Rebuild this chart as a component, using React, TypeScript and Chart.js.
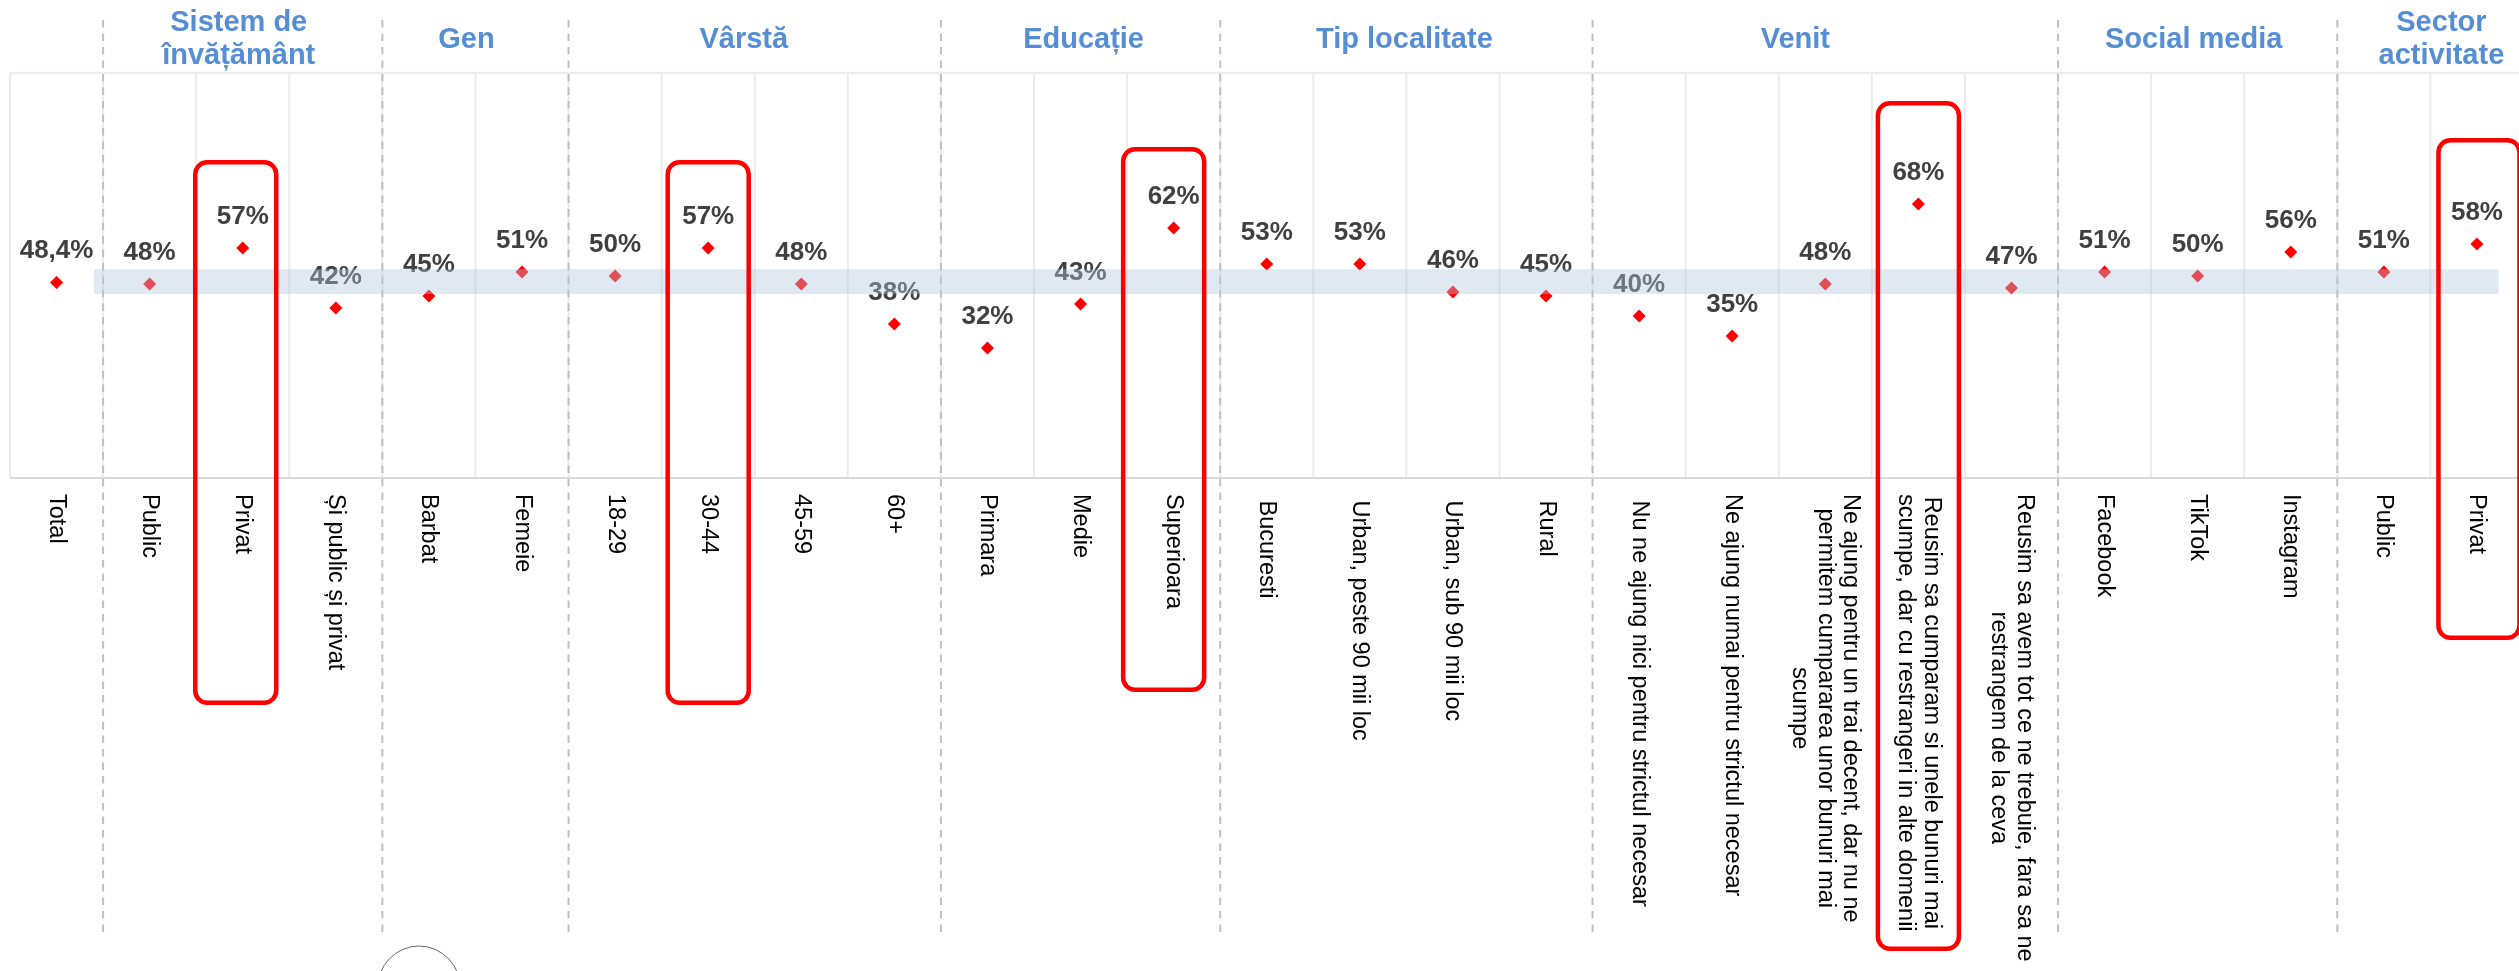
import React, { useEffect, useRef } from 'react';
import { Chart, registerables } from 'chart.js';

Chart.register(...registerables);

// ---------- DATA ----------
const categoryLabels: string[][] = [
  ['Total'],
  ['Public'],
  ['Privat'],
  ['Și public și privat'],
  ['Barbat'],
  ['Femeie'],
  ['18-29'],
  ['30-44'],
  ['45-59'],
  ['60+'],
  ['Primara'],
  ['Medie'],
  ['Superioara'],
  [' Bucuresti'],
  [' Urban, peste 90 mii loc'],
  [' Urban, sub 90 mii loc'],
  [' Rural'],
  [' Nu ne ajung nici pentru strictul necesar'],
  ['Ne ajung numai pentru strictul necesar'],
  ['Ne ajung pentru un trai decent, dar nu ne', 'permitem cumpararea unor bunuri mai', 'scumpe'],
  ['Reusim sa cumparam si unele bunuri mai', 'scumpe, dar cu restrangeri in alte domenii'],
  ['Reusim sa avem tot ce ne trebuie, fara sa ne', 'restrangem de la ceva'],
  ['Facebook'],
  ['TikTok'],
  ['Instagram'],
  ['Public'],
  ['Privat'],
];

const values: number[] = [
  48.4, 48, 57, 42, 45, 51, 50, 57, 48, 38, 32, 43, 62, 53, 53, 46, 45, 40, 35, 48, 68, 47, 51, 50, 56, 51, 58,
];

const groupTitles: string[][] = [
  ['Sistem de', 'învățământ'],
  ['Gen'],
  ['Vârstă'],
  ['Educație'],
  ['Tip localitate'],
  ['Venit'],
  ['Social media'],
  ['Sector', 'activitate'],
];
const groupStart: number[] = [1, 4, 6, 10, 13, 17, 22, 25];
const groupEnd: number[] = [4, 6, 10, 13, 17, 22, 25, 27];

const highlightedCategories: number[] = [2, 7, 12, 20, 26];

const averageBand: number[] = [45.5, 51.7];

// ---------- STYLES ----------
const CANVAS_W = 2530;
const CANVAS_H = 971;
const FONT = '"Liberation Sans", Arial, Helvetica, sans-serif';
const headerNudge = [-4, -9, -11, 3, -2, -30, -4, 11];
const boxGeometry = [
  { top: 160, bottom: 705, dx: -7 },
  { top: 160, bottom: 705, dx: 0 },
  { top: 147, bottom: 692, dx: -10 },
  { top: 101, bottom: 951, dx: 0 },
  { top: 138, bottom: 640, dx: 2 },
];

function fmt(v: number): string {
  return Number.isInteger(v) ? `${v}%` : `${v.toFixed(1).replace('.', ',')}%`;
}

function roundRectPath(ctx: CanvasRenderingContext2D, x: number, y: number, w: number, h: number, r: number) {
  ctx.beginPath();
  ctx.moveTo(x + r, y);
  ctx.lineTo(x + w - r, y);
  ctx.arcTo(x + w, y, x + w, y + r, r);
  ctx.lineTo(x + w, y + h - r);
  ctx.arcTo(x + w, y + h, x + w - r, y + h, r);
  ctx.lineTo(x + r, y + h);
  ctx.arcTo(x, y + h, x, y + h - r, r);
  ctx.lineTo(x, y + r);
  ctx.arcTo(x, y, x + r, y, r);
  ctx.closePath();
}

const decorPlugin = {
  id: 'decor',
  beforeDatasetsDraw(chart: any) {
    const { ctx, chartArea: a } = chart;
    const n = categoryLabels.length;
    const w = (a.right - a.left) / n;
    ctx.save();
    ctx.strokeStyle = '#EBEBEB';
    ctx.lineWidth = 2;
    for (let k = 0; k <= n; k++) {
      const px = a.left + k * w;
      ctx.beginPath();
      ctx.moveTo(px, a.top);
      ctx.lineTo(px, a.bottom);
      ctx.stroke();
    }
    ctx.strokeStyle = '#EDEDED';
    ctx.lineWidth = 2.5;
    ctx.beginPath();
    ctx.moveTo(a.left, a.top);
    ctx.lineTo(a.right, a.top);
    ctx.stroke();
    ctx.strokeStyle = '#D9D9D9';
    ctx.lineWidth = 2;
    ctx.beginPath();
    ctx.moveTo(a.left, a.bottom);
    ctx.lineTo(a.right, a.bottom);
    ctx.stroke();
    // dashed group separators
    ctx.setLineDash([7.5, 6]);
    ctx.strokeStyle = '#C0C0C0';
    ctx.lineWidth = 2;
    groupStart.forEach((k) => {
      const px = a.left + k * w;
      ctx.beginPath();
      ctx.moveTo(px, 20);
      ctx.lineTo(px, 934);
      ctx.stroke();
    });
    ctx.restore();
  },
  afterDatasetsDraw(chart: any) {
    const { ctx, chartArea: a, scales } = chart;
    const xs = scales.x;
    const ys = scales.y;
    const n = categoryLabels.length;
    const w = (a.right - a.left) / n;
    ctx.save();

    // value labels
    ctx.font = `bold 26px ${FONT}`;
    ctx.fillStyle = '#404040';
    ctx.textAlign = 'center';
    ctx.textBaseline = 'alphabetic';
    values.forEach((v, i) => {
      ctx.fillText(fmt(v), xs.getPixelForValue(i), ys.getPixelForValue(v) - 24.5);
    });

    // average band (semi-transparent, over marks)
    const bx0 = a.left + groupStart[0] * w - 9;
    const bx1 = a.right - 25;
    const by0 = ys.getPixelForValue(averageBand[1]);
    const by1 = ys.getPixelForValue(averageBand[0]);
    ctx.fillStyle = 'rgba(178,198,223,0.4)';
    ctx.fillRect(bx0, by0, bx1 - bx0, by1 - by0);

    // group headers
    ctx.font = `bold 29px ${FONT}`;
    ctx.fillStyle = '#558ED5';
    ctx.textAlign = 'center';
    ctx.textBaseline = 'alphabetic';
    groupTitles.forEach((lines, g) => {
      const cx = a.left + ((groupStart[g] + groupEnd[g]) / 2) * w + headerNudge[g];
      if (lines.length === 1) {
        ctx.fillText(lines[0], cx, 48);
      } else {
        lines.forEach((l, j) => ctx.fillText(l, cx, 31 + j * 33));
      }
    });

    // category labels, rotated clockwise
    ctx.font = `23.5px ${FONT}`;
    ctx.fillStyle = '#000000';
    categoryLabels.forEach((lines, i) => {
      const cx = xs.getPixelForValue(i);
      ctx.save();
      ctx.translate(cx, 494);
      ctx.rotate(Math.PI / 2);
      const maxW = Math.max(...lines.map((l) => ctx.measureText(l).width));
      ctx.textAlign = 'center';
      ctx.textBaseline = 'middle';
      lines.forEach((l, j) => {
        ctx.fillText(l, maxW / 2, (j - (lines.length - 1) / 2) * 25.5);
      });
      ctx.restore();
    });

    // highlight boxes
    ctx.strokeStyle = '#FF0000';
    ctx.lineWidth = 4.5;
    highlightedCategories.forEach((idx, b) => {
      const g = boxGeometry[b];
      const cx = xs.getPixelForValue(idx) + g.dx;
      const bw = 85.5;
      const hs = 2.25;
      roundRectPath(ctx, cx - bw / 2 + hs, g.top + hs, bw - 2 * hs, g.bottom - g.top - 2 * hs, 12);
      ctx.stroke();
    });

    // stray circle mark at the bottom of the source image
    ctx.strokeStyle = '#666666';
    ctx.lineWidth = 1;
    ctx.beginPath();
    ctx.ellipse(419, 990, 42, 44, 0, 0, Math.PI * 2);
    ctx.stroke();

    ctx.restore();
  },
};

export default function App() {
  const ref = useRef<HTMLCanvasElement | null>(null);

  useEffect(() => {
    if (!ref.current) return;
    const chart = new Chart(ref.current, {
      type: 'line',
      data: {
        labels: categoryLabels.map((l) => l.join(' ').trim()),
        datasets: [
          {
            data: values,
            showLine: false,
            pointStyle: 'rectRot',
            pointRadius: 6.5,
            pointHoverRadius: 6.5,
            pointBackgroundColor: '#FF0000',
            pointBorderColor: '#FF0000',
            pointBorderWidth: 0,
            borderColor: '#FF0000',
            backgroundColor: '#FF0000',
          },
        ],
      },
      options: {
        responsive: false,
        animation: false,
        devicePixelRatio: 1,
        events: [],
        layout: { padding: { left: 10, right: CANVAS_W - 2525.4, top: 73, bottom: CANVAS_H - 478 } },
        plugins: { legend: { display: false }, tooltip: { enabled: false }, title: { display: false } },
        scales: {
          x: { type: 'category', display: false, offset: true },
          y: { display: false, min: -0.5, max: 100.75 },
        },
      },
      plugins: [decorPlugin],
    } as any);
    return () => chart.destroy();
  }, []);

  return (
    <div
      style={{
        position: 'fixed',
        left: 0,
        top: 0,
        width: 2519,
        height: 971,
        overflow: 'hidden',
        background: '#ffffff',
      }}
    >
      <canvas
        ref={ref}
        width={CANVAS_W}
        height={CANVAS_H}
        style={{ display: 'block', width: CANVAS_W, height: CANVAS_H }}
      />
    </div>
  );
}
